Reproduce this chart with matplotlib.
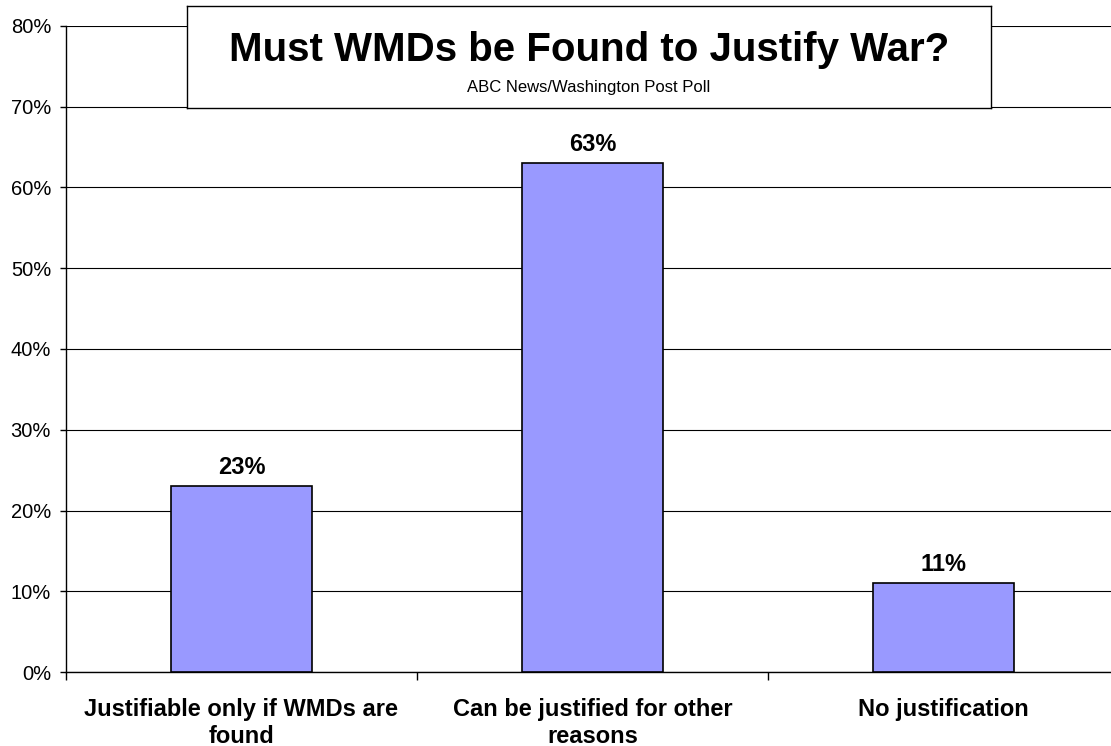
import matplotlib
matplotlib.use('Agg')
import matplotlib.pyplot as plt
from matplotlib.ticker import FuncFormatter, FixedLocator
import numpy as np

plt.rcParams['font.family'] = ['Liberation Sans', 'DejaVu Sans']

# Poll data
categories = ["Justifiable only if WMDs are\nfound",
              "Can be justified for other\nreasons",
              "No justification"]
values = [23, 63, 11]
bar_color = '#9999FF'

fig = plt.figure(figsize=(11.11, 7.46), dpi=100)
W, H = 1111, 746
# plot area runs a bit past the right edge of the image, like the original
ax = fig.add_axes([66 / W, (H - 672) / H, (1119 - 66) / W, (672 - 26) / H])

x = np.arange(len(categories))
bars = ax.bar(x, values, width=0.4, color=bar_color, edgecolor='black',
              linewidth=1.2, zorder=3)

for xi, v in zip(x, values):
    ax.text(xi, v + 0.9, f"{v}%", ha='center', va='bottom',
            fontsize=17, fontweight='bold')

ax.set_xlim(-0.5, len(categories) - 0.5)
ax.set_ylim(0, 80)
ax.set_yticks(np.arange(0, 81, 10))
ax.yaxis.set_major_formatter(FuncFormatter(lambda v, p: f"{int(v)}%"))
ax.yaxis.grid(True, color='black', linewidth=0.8, zorder=0)
ax.set_axisbelow(True)

# category labels centered, ticks at boundaries
ax.set_xticks(x)
ax.set_xticklabels(categories, fontsize=17, fontweight='bold', linespacing=1.2)
ax.tick_params(axis='x', length=0, pad=19)
ax.xaxis.set_minor_locator(FixedLocator(np.arange(-0.5, len(categories), 1.0)))
ax.tick_params(axis='x', which='minor', length=6, width=1, direction='out')
ax.tick_params(axis='y', length=4.3, width=1, labelsize=14.5, pad=6.5)

for s in ['top', 'right']:
    ax.spines[s].set_visible(False)
ax.spines['left'].set_linewidth(1)
ax.spines['bottom'].set_linewidth(1)

# Title box
box = fig.add_axes([187 / W, (H - 108) / H, (991 - 187) / W, (108 - 6) / H])
box.set_xticks([])
box.set_yticks([])
for s in box.spines.values():
    s.set_linewidth(1)
box.set_facecolor('white')
box.text(0.5, 0.57, "Must WMDs be Found to Justify War?", ha='center', va='center',
         fontsize=29, fontweight='bold', transform=box.transAxes)
box.text(0.5, 0.2, "ABC News/Washington Post Poll", ha='center', va='center',
         fontsize=12, transform=box.transAxes)

plt.savefig('out.png', dpi=100, facecolor='white')
